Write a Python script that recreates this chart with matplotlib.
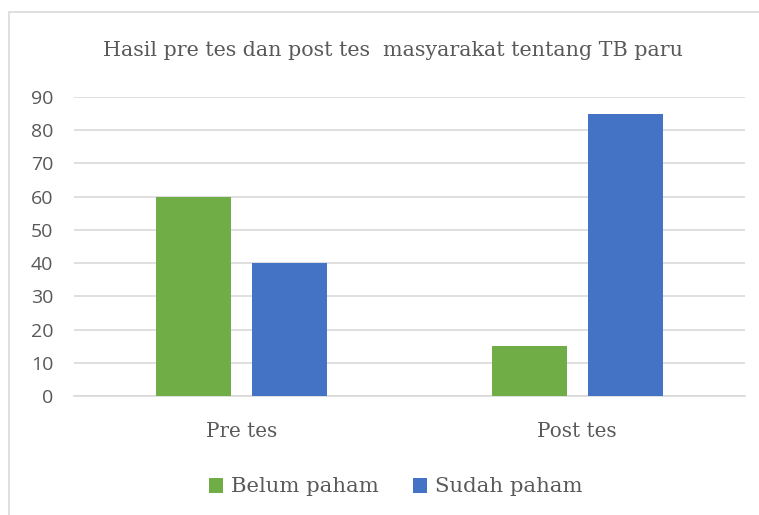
import matplotlib.pyplot as plt
import numpy as np
from matplotlib.patches import Rectangle

categories = ["Pre tes", "Post tes"]
belum = [60, 15]
sudah = [40, 85]
series_names = ["Belum paham", "Sudah paham"]
yticks = list(range(0, 100, 10))

green = "#70AD47"
blue = "#4472C4"
serif = ["DejaVu Serif"]

fig = plt.figure(figsize=(7.59, 5.15), dpi=100)
fig.patch.set_facecolor("white")

# outer chart border (cut off at right and bottom like the screenshot)
fig.patches.append(Rectangle((9 / 759, -0.05), 1.1, 1 - 12 / 515 + 0.05,
                             transform=fig.transFigure, fill=False,
                             edgecolor="#D9D9D9", linewidth=1.2))

ax = fig.add_axes([74 / 759, 1 - 396 / 515, (745 - 74) / 759, (396 - 97) / 515])

x = np.arange(len(categories))
w = 0.224
off = 0.143
ax.bar(x - off, belum, w, color=green, label=series_names[0], zorder=3)
ax.bar(x + off, sudah, w, color=blue, label=series_names[1], zorder=3)

ax.set_xlim(-0.5, len(categories) - 0.5)
ax.set_ylim(0, 90)
ax.set_yticks(yticks)
ax.yaxis.grid(True, color="#D9D9D9", linewidth=1.2, zorder=0)
ax.set_axisbelow(True)
for s in ["top", "right", "left"]:
    ax.spines[s].set_visible(False)
ax.spines["bottom"].set_color("#D9D9D9")
ax.spines["bottom"].set_linewidth(1.2)
ax.tick_params(axis="both", length=0)
ax.tick_params(axis="y", labelsize=14, labelcolor="#595959", pad=15)
for lbl in ax.get_yticklabels():
    lbl.set_family(["Open Sans", "DejaVu Sans"])

ax.set_xticks(x)
ax.set_xticklabels(categories, family=serif, fontsize=14.3, color="#595959")
ax.tick_params(axis="x", pad=19)

fig.text(0.518, 1 - 50 / 515, "Hasil pre tes dan post tes  masyarakat tentang TB paru",
         ha="center", va="center", family=serif, fontsize=14.9, color="#595959")

leg = fig.legend(loc="center", bbox_to_anchor=(0.521, 1 - 487 / 515), ncol=2,
                 frameon=False, prop={"family": serif, "size": 15.3},
                 handlelength=0.7, handleheight=0.7, handletextpad=0.35,
                 columnspacing=1.6)
for t in leg.get_texts():
    t.set_color("#595959")

fig.savefig("out.png", dpi=100)
